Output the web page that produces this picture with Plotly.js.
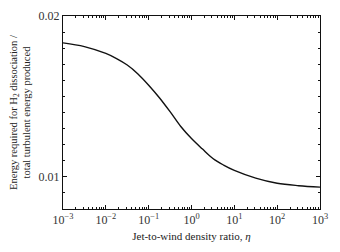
<!DOCTYPE html>
<html><head><meta charset="utf-8">
<script src="https://cdn.plot.ly/plotly-3.0.1.min.js"></script>
<style>html,body{margin:0;padding:0;background:#fff;}#chart{width:340px;height:252px;}</style>
</head><body><div id="chart"></div>
<script>
const eta = [0.001, 0.00316, 0.01, 0.0178, 0.0316, 0.0562, 0.1, 0.178, 0.316, 0.562, 1, 1.78, 3.16, 5.62, 10, 31.6, 100, 316, 1000];
const energyRatio = [0.01833, 0.01810, 0.01767, 0.01735, 0.01695, 0.01640, 0.01570, 0.01492, 0.01405, 0.01313, 0.01238, 0.01174, 0.01114, 0.01073, 0.01040, 0.00992, 0.00960, 0.00945, 0.00936];
const xTickVals = [0.001, 0.01, 0.1, 1, 10, 100, 1000];
const xTickText = ['10<sup>\u22123</sup>','10<sup>\u22122</sup>','10<sup>\u22121</sup>','10<sup>0</sup>','10<sup>1</sup>','10<sup>2</sup>','10<sup>3</sup>'];
const yTickVals = [0.01, 0.02];
const yTickText = ['0.01', '0.02'];

const xMinor = [];
for (let e = -3; e < 3; e++) for (let d = 2; d <= 9; d++) xMinor.push(d * Math.pow(10, e));
const yMinor = [];
for (let k = 8; k <= 20; k++) yMinor.push(k / 1000);

const fam = 'Liberation Serif, DejaVu Serif, serif';

Plotly.newPlot('chart', [{
  x: eta, y: energyRatio, type: 'scatter', mode: 'lines',
  line: {color: '#111', width: 1.4, shape: 'spline', smoothing: 1},
  hoverinfo: 'skip'
}], {
  width: 340, height: 252,
  margin: {l: 63, r: 20, t: 16, b: 43},
  paper_bgcolor: '#fff', plot_bgcolor: '#fff',
  showlegend: false,
  font: {family: fam, color: '#222', size: 11},
  xaxis: {
    type: 'log', range: [-3, 3],
    tickmode: 'array', tickvals: xTickVals, ticktext: xTickText,
    ticks: 'inside', ticklen: 4, tickwidth: 1, tickcolor: '#111',
    minor: {tickmode: 'array', tickvals: xMinor, ticks: 'inside', ticklen: 2, tickwidth: 1, tickcolor: '#111', showgrid: false},
    showline: true, linecolor: '#111', linewidth: 1, mirror: 'ticks',
    showgrid: false, zeroline: false,
    tickfont: {family: fam, size: 12, color: '#333'},
    title: {text: 'Jet-to-wind density ratio, <i>\u03b7</i>', font: {family: fam, size: 11, color: '#222'}, standoff: 5}
  },
  yaxis: {
    range: [0.008, 0.02],
    tickmode: 'array', tickvals: yTickVals, ticktext: yTickText,
    ticks: 'inside', ticklen: 4, tickwidth: 1, tickcolor: '#111',
    minor: {tickmode: 'array', tickvals: yMinor, ticks: 'inside', ticklen: 2, tickwidth: 1, tickcolor: '#111', showgrid: false},
    showline: true, linecolor: '#111', linewidth: 1, mirror: 'ticks',
    showgrid: false, zeroline: false,
    tickfont: {family: fam, size: 12, color: '#333'},
    title: {text: 'Energy required for H<sub>2</sub> dissociation /<br>total turbulent energy produced', font: {family: fam, size: 10.5, color: '#222'}, standoff: 5}
  }
}, {staticPlot: true, displayModeBar: false});
</script></body></html>
